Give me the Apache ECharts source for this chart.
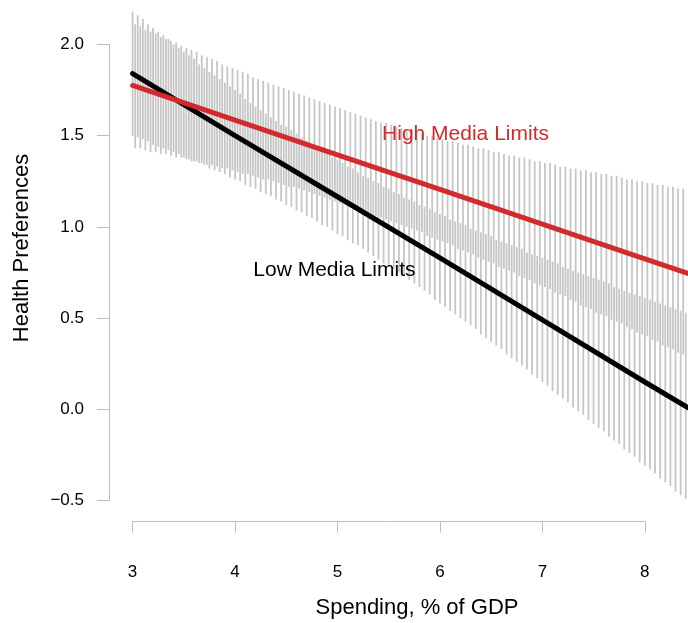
<!DOCTYPE html>
<html>
<head>
<meta charset="utf-8">
<script src="https://cdn.jsdelivr.net/npm/echarts/dist/echarts.min.js"></script>
<style>
  html, body { margin: 0; padding: 0; background: #fff; }
  #chart { width: 688px; height: 623px; }
</style>
</head>
<body>
<div id="chart"></div>
<script>
// x positions of the gray interval segments
var spendLow = [
  3.00,3.05,3.10,3.15,3.20,3.25,3.30,3.35,3.40,3.45,3.50,3.55,3.60,3.65,3.70,3.75,3.80,3.85,3.90,3.95,
  4.00,4.05,4.10,4.15,4.20,4.25,4.30,4.35,4.40,4.45,4.50,4.55,4.60,4.65,4.70,4.75,4.80,4.85,4.90,4.95,
  5.00,5.05,5.10,5.15,5.20,5.25,5.30,5.35,5.40,5.45,5.50,5.55,5.60,5.65,5.70,5.75,5.80,5.85,5.90,5.95,
  6.00,6.05,6.10,6.15,6.20,6.25,6.30,6.35,6.40,6.45,6.50,6.55,6.60,6.65,6.70,6.75,6.80,6.85,6.90,6.95,
  7.00,7.05,7.10,7.15,7.20,7.25,7.30,7.35,7.40,7.45,7.50,7.55,7.60,7.65,7.70,7.75,7.80,7.85,7.90,7.95,
  8.00,8.05,8.10,8.15,8.20,8.25,8.30,8.35,8.40
];
var lowLower = [
  1.50,1.49,1.48,1.47,1.45,1.44,1.43,1.42,1.41,1.40,1.38,1.37,1.36,1.35,1.34,1.32,1.31,1.30,1.29,1.27,
  1.26,1.25,1.23,1.22,1.21,1.19,1.18,1.17,1.15,1.14,1.12,1.11,1.09,1.08,1.06,1.05,1.03,1.01,1.00,0.98,
  0.96,0.95,0.93,0.91,0.90,0.88,0.86,0.84,0.82,0.80,0.78,0.77,0.75,0.73,0.71,0.69,0.67,0.65,0.63,0.60,
  0.58,0.56,0.54,0.52,0.50,0.48,0.46,0.44,0.41,0.39,0.37,0.35,0.33,0.30,0.28,0.26,0.24,0.22,0.19,0.17,
  0.15,0.13,0.10,0.08,0.06,0.04,0.01,-0.01,-0.03,-0.06,-0.08,-0.10,-0.12,-0.15,-0.17,-0.19,-0.22,-0.24,-0.26,-0.29,
  -0.31,-0.33,-0.35,-0.38,-0.40,-0.42,-0.45,-0.47,-0.49
];
var lowUpper = [
  2.18,2.16,2.14,2.11,2.09,2.07,2.05,2.03,2.00,1.98,1.96,1.94,1.92,1.89,1.87,1.85,1.83,1.81,1.79,1.77,
  1.75,1.73,1.70,1.68,1.66,1.64,1.62,1.60,1.58,1.56,1.55,1.53,1.51,1.49,1.47,1.45,1.43,1.42,1.40,1.38,
  1.37,1.35,1.33,1.32,1.30,1.28,1.27,1.25,1.24,1.22,1.21,1.19,1.18,1.16,1.15,1.14,1.12,1.11,1.10,1.08,
  1.07,1.06,1.04,1.03,1.02,1.01,0.99,0.98,0.97,0.96,0.95,0.93,0.92,0.91,0.90,0.89,0.88,0.86,0.85,0.84,
  0.83,0.82,0.81,0.80,0.78,0.77,0.76,0.75,0.74,0.73,0.72,0.71,0.70,0.69,0.67,0.66,0.65,0.64,0.63,0.62,
  0.61,0.60,0.59,0.58,0.57,0.56,0.55,0.54,0.53
];

var spendHigh = [
  3.025,3.075,3.125,3.175,3.225,3.275,3.325,3.375,3.425,3.475,3.525,3.575,3.625,3.675,3.725,3.775,3.825,3.875,3.925,3.975,
  4.025,4.075,4.125,4.175,4.225,4.275,4.325,4.375,4.425,4.475,4.525,4.575,4.625,4.675,4.725,4.775,4.825,4.875,4.925,4.975,
  5.025,5.075,5.125,5.175,5.225,5.275,5.325,5.375,5.425,5.475,5.525,5.575,5.625,5.675,5.725,5.775,5.825,5.875,5.925,5.975,
  6.025,6.075,6.125,6.175,6.225,6.275,6.325,6.375,6.425,6.475,6.525,6.575,6.625,6.675,6.725,6.775,6.825,6.875,6.925,6.975,
  7.025,7.075,7.125,7.175,7.225,7.275,7.325,7.375,7.425,7.475,7.525,7.575,7.625,7.675,7.725,7.775,7.825,7.875,7.925,7.975,
  8.025,8.075,8.125,8.175,8.225,8.275,8.325,8.375
];
var highLower = [
  1.43,1.43,1.42,1.41,1.41,1.40,1.40,1.39,1.38,1.38,1.37,1.36,1.36,1.35,1.34,1.34,1.33,1.32,1.32,1.31,
  1.30,1.29,1.29,1.28,1.27,1.26,1.26,1.25,1.24,1.23,1.22,1.22,1.21,1.20,1.19,1.18,1.17,1.16,1.15,1.14,
  1.13,1.12,1.11,1.10,1.09,1.08,1.07,1.06,1.05,1.04,1.03,1.02,1.01,1.00,0.99,0.98,0.97,0.95,0.94,0.93,
  0.92,0.91,0.90,0.88,0.87,0.86,0.85,0.83,0.82,0.81,0.80,0.78,0.77,0.76,0.75,0.73,0.72,0.71,0.69,0.68,
  0.67,0.66,0.64,0.63,0.62,0.60,0.59,0.57,0.56,0.55,0.53,0.52,0.51,0.49,0.48,0.47,0.45,0.44,0.42,0.41,
  0.40,0.38,0.37,0.35,0.34,0.33,0.31,0.30
];
var highUpper = [
  2.11,2.10,2.08,2.07,2.06,2.04,2.03,2.02,2.01,1.99,1.98,1.97,1.96,1.94,1.93,1.92,1.91,1.89,1.88,1.87,
  1.86,1.85,1.84,1.82,1.81,1.80,1.79,1.78,1.77,1.76,1.75,1.74,1.73,1.72,1.71,1.70,1.69,1.68,1.67,1.66,
  1.65,1.64,1.63,1.62,1.61,1.60,1.59,1.58,1.57,1.57,1.56,1.55,1.54,1.53,1.53,1.52,1.51,1.50,1.50,1.49,
  1.48,1.47,1.47,1.46,1.45,1.45,1.44,1.43,1.43,1.42,1.41,1.41,1.40,1.39,1.39,1.38,1.38,1.37,1.36,1.36,
  1.35,1.35,1.34,1.33,1.33,1.32,1.32,1.31,1.31,1.30,1.30,1.29,1.29,1.28,1.28,1.27,1.26,1.26,1.25,1.25,
  1.24,1.24,1.23,1.23,1.22,1.22,1.21,1.21
];

// fitted lines
var spending = [3, 4, 5, 6, 7, 8, 8.42];
var lowPref  = [1.84, 1.50, 1.165, 0.83, 0.49, 0.15, 0.01];
var highPref = [1.775, 1.585, 1.395, 1.205, 1.015, 0.825, 0.745];

var xTicks = [3, 4, 5, 6, 7, 8];
var yTicks = [-0.5, 0.0, 0.5, 1.0, 1.5, 2.0];
var xPlotMax = 8.4218; // right edge of the plotting region

var highLabel = { name: 'High Media Limits', at: [6.25, 1.51] };
var lowLabel  = { name: 'Low Media Limits',  at: [4.97, 0.765] };

var FONT = '"Liberation Sans", Arial, Helvetica, sans-serif';
var axisGray = '#bdbdbd';
var segGray = '#c6c6c6';

function zip(xs, lo, hi) {
  return xs.map(function (x, i) { return [x, lo[i], hi[i]]; });
}
function pairs(xs, ys) {
  return xs.map(function (x, i) { return [x, ys[i]]; });
}
function segment(params, api) {
  var p1 = api.coord([api.value(0), api.value(1)]);
  var p2 = api.coord([api.value(0), api.value(2)]);
  return {
    type: 'line',
    shape: { x1: p1[0], y1: p1[1], x2: p2[0], y2: p2[1] },
    style: { stroke: segGray, lineWidth: 1.8 }
  };
}

var chart = echarts.init(document.getElementById('chart'), null, { renderer: 'canvas' });

var option = {
  backgroundColor: '#fff',
  animation: false,
  grid: [
    // plotting region
    { left: 132.6, right: 0, top: 44.4, bottom: 122.4 },
    // region spanned by the drawn x axis (3 to 8)
    { left: 132.6, right: 43.2, top: 44.4, bottom: 122.4 }
  ],
  xAxis: [
    { type: 'value', gridIndex: 0, min: xTicks[0], max: xPlotMax, show: false },
    {
      type: 'value', gridIndex: 1,
      min: xTicks[0], max: xTicks[xTicks.length - 1], interval: 1,
      offset: 21,
      axisLine: { show: true, onZero: false, lineStyle: { color: axisGray, width: 1 } },
      axisTick: { show: true, length: 11, lineStyle: { color: axisGray, width: 1 } },
      axisLabel: { color: '#000', fontSize: 17, fontFamily: FONT, margin: 42 },
      splitLine: { show: false }
    }
  ],
  yAxis: [
    {
      type: 'value', gridIndex: 0,
      min: yTicks[0], max: yTicks[yTicks.length - 1], interval: 0.5,
      offset: 23.6,
      axisLine: { show: true, onZero: false, lineStyle: { color: axisGray, width: 1 } },
      axisTick: { show: true, length: 12, lineStyle: { color: axisGray, width: 1 } },
      axisLabel: {
        color: '#000', fontSize: 17, fontFamily: FONT, margin: 25,
        formatter: function (v) { return v < 0 ? '\u2212' + Math.abs(v).toFixed(1) : v.toFixed(1); }
      },
      splitLine: { show: false }
    },
    { type: 'value', gridIndex: 1, min: yTicks[0], max: yTicks[yTicks.length - 1], show: false }
  ],
  graphic: [
    {
      type: 'text', x: 417, y: 608,
      style: { text: 'Spending, % of GDP', fill: '#000', font: '22px ' + FONT, align: 'center', verticalAlign: 'middle' }
    },
    {
      type: 'text', x: 22, y: 248, rotation: Math.PI / 2,
      style: { text: 'Health Preferences', fill: '#000', font: '22px ' + FONT, align: 'center', verticalAlign: 'middle' }
    }
  ],
  series: [
    { type: 'custom', name: 'Low band', renderItem: segment, data: zip(spendLow, lowLower, lowUpper), clip: false, z: 1, silent: true },
    { type: 'custom', name: 'High band', renderItem: segment, data: zip(spendHigh, highLower, highUpper), clip: false, z: 1, silent: true },
    {
      type: 'line', name: 'Low Media Limits', data: pairs(spending, lowPref), clip: false,
      showSymbol: false, symbol: 'none', z: 3,
      lineStyle: { color: '#000', width: 5, cap: 'round' }
    },
    {
      type: 'line', name: 'High Media Limits', data: pairs(spending, highPref), clip: false,
      showSymbol: false, symbol: 'none', z: 4,
      lineStyle: { color: '#d22b2b', width: 5, cap: 'round' }
    },
    {
      type: 'scatter', symbolSize: 0, z: 5, silent: true,
      itemStyle: { opacity: 1 },
      data: [
        { name: highLabel.name, value: highLabel.at, label: { color: '#d22b2b' } },
        { name: lowLabel.name, value: lowLabel.at, label: { color: '#000' } }
      ],
      label: { show: true, position: 'inside', formatter: '{b}', fontSize: 21, fontFamily: FONT, opacity: 1 }
    }
  ]
};

chart.setOption(option);
</script>
</body>
</html>
